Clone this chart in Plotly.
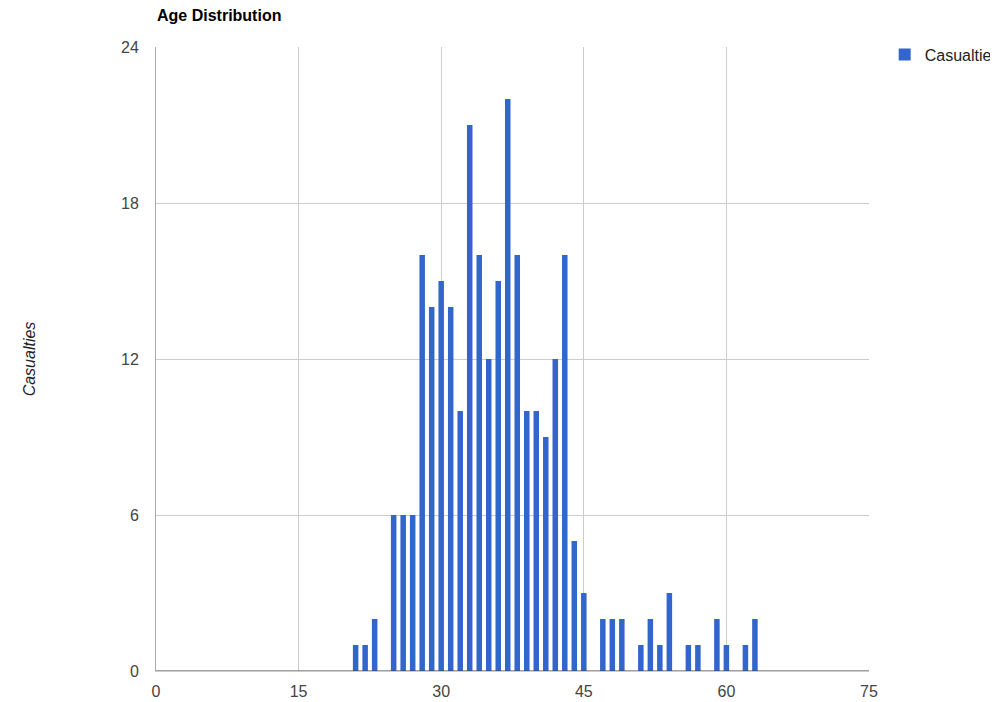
import plotly.graph_objects as go

ages = list(range(21, 64))
casualties = [1, 1, 2, 0, 6, 6, 6, 16, 14, 15, 14, 10, 21, 16, 12, 15, 22, 16, 10, 10,
              9, 12, 16, 5, 3, 0, 2, 2, 2, 0, 1, 2, 1, 3, 0, 1, 1, 0, 2, 1, 0, 1, 2]
x_ticks = [0, 15, 30, 45, 60, 75]
y_ticks = [0, 6, 12, 18, 24]

FONT = "Arial, Liberation Sans, sans-serif"

fig = go.Figure()
fig.add_trace(go.Bar(x=ages, y=casualties, name="Casualties",
                     marker=dict(color="#3366cc", line=dict(width=0)),
                     width=0.58))

fig.update_layout(
    width=998, height=702,
    paper_bgcolor="white", plot_bgcolor="white",
    margin=dict(l=148, r=137, t=39, b=39, autoexpand=False),
    font=dict(family=FONT, size=16, color="#444444"),
    title=dict(text="<b>Age Distribution</b>", xref="container", yref="container",
               x=149/998, xanchor="left", y=1-7/702, yanchor="middle",
               font=dict(family=FONT, size=16, color="#000000")),
    showlegend=True,
    legend=dict(x=1.022, y=1.015, xanchor="left", yanchor="top",
                font=dict(family=FONT, size=16, color="#222222"),
                bgcolor="rgba(0,0,0,0)", itemwidth=30),
    bargap=0.4,
)
fig.update_xaxes(range=[0, 75], tickvals=x_ticks, ticktext=[str(v) for v in x_ticks],
                 automargin=False,
                 showgrid=True, gridcolor="#cccccc", gridwidth=1,
                 zeroline=False, showline=True, linecolor="#cccccc",
                 ticks="outside", ticklen=6, tickcolor="rgba(0,0,0,0)",
                 tickfont=dict(size=16, color="#444444"))
fig.update_yaxes(range=[0, 24], tickvals=y_ticks, ticktext=[str(v) for v in y_ticks],
                 automargin=False,
                 showgrid=True, gridcolor="#cccccc", gridwidth=1,
                 zeroline=False, showline=True, linecolor="#aaaaaa", mirror=False,
                 ticks="outside", ticklen=13, tickcolor="rgba(0,0,0,0)",
                 tickfont=dict(size=16, color="#444444"),
                 title=dict(text="<i>Casualties</i>", standoff=81,
                            font=dict(family=FONT, size=16, color="#222222")))
fig.add_shape(type="line", xref="paper", yref="y", x0=0, x1=1, y0=0, y1=0,
              line=dict(color="#444444", width=1))

fig.write_html("out.html")
